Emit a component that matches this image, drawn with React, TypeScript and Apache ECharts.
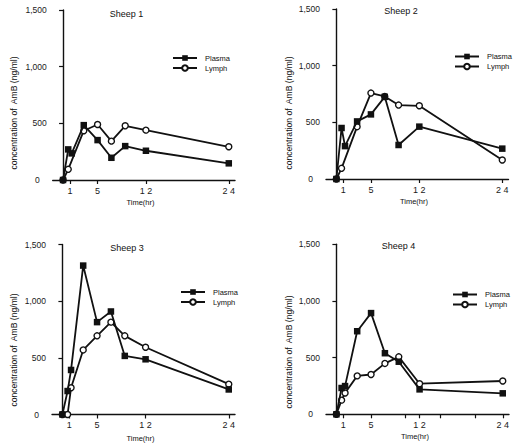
import React, { useEffect, useRef } from "react";
import * as echarts from "echarts";

// Sampling times (hr)
const times = [0, 0.75, 1.25, 3, 5, 7, 9, 12, 24];

// AmB concentration (ng/ml)
const sheep1Plasma = [0, 270, 235, 484, 352, 196, 299, 258, 147];
const sheep1Lymph = [0, 94, null, 435, 490, 343, 478, 440, 293];
const sheep2Plasma = [0, 450, 290, 508, 570, 725, 300, 462, 268];
const sheep2Lymph = [0, 94, null, 462, 758, 728, 652, 646, 168];
const sheep3Plasma = [0, 207, 393, 1314, 815, 909, 517, 487, 221];
const sheep3Lymph = [0, 0, 236, 570, 694, 815, 694, 593, 268];
const sheep4Plasma = [0, 232, 249, 733, 893, 539, 464, 220, 185];
const sheep4Lymph = [0, 125, 188, 339, 351, 449, 507, 270, 294];

const panelTitles = ["Sheep 1", "Sheep 2", "Sheep 3", "Sheep 4"];
const seriesNames = ["Plasma", "Lymph"];
const yTicks = [0, 500, 1000, 1500];
const yTickLabels = ["0", "500", "1,000", "1,500"];
const xLabelValues = [1, 5, 12, 24];
const xLabelTexts = ["1", "5", "1 2", "2 4"];
const xTicksPanel4 = [1, 5, 10, 12, 15, 20, 24];
const xAxisTitle = "Time(hr)";
const yAxisTitle = "concentration of  AmB (ng/ml)";

const panels = [
  { plasma: sheep1Plasma, lymph: sheep1Lymph },
  { plasma: sheep2Plasma, lymph: sheep2Lymph },
  { plasma: sheep3Plasma, lymph: sheep3Lymph },
  { plasma: sheep4Plasma, lymph: sheep4Lymph },
];

const FONT = "'Liberation Sans', Arial, sans-serif";
const INK = "#111";

export default function App() {
  const ref = useRef<HTMLDivElement>(null);
  useEffect(() => {
    if (!ref.current) return;
    const chart = echarts.init(ref.current, null, { renderer: "svg" });

    const grids = [
      { left: 52.7, top: 10, width: 182.3, height: 170 },
      { left: 326, top: 9, width: 182.5, height: 170 },
      { left: 52, top: 244.5, width: 183, height: 170 },
      { left: 326, top: 244.3, width: 183, height: 170 },
    ];
    const legendPos = [
      { left: 172, top: 54 },
      { left: 454, top: 52.5 },
      { left: 180, top: 288 },
      { left: 452, top: 290.5 },
    ];
    const titlePos = [
      [126.5, 14],
      [401, 11],
      [127, 248],
      [398.5, 246],
    ];
    const xTitlePos = [
      [140.5, 202],
      [414, 201.7],
      [140.5, 438],
      [415, 436.7],
    ];
    const yTitlePos = [
      [13.5, 113],
      [288.5, 113],
      [13.5, 350],
      [288.5, 352],
    ];

    const xAxis = grids.map((_, i) => ({
      type: "value",
      gridIndex: i,
      min: -1.5,
      max: 24.9,
      splitLine: { show: false },
      axisLine: { show: true, onZero: false, lineStyle: { color: INK, width: 1.4 } },
      axisTick: {
        show: true,
        length: 4,
        customValues: i === 3 ? xTicksPanel4 : xLabelValues,
        lineStyle: { color: INK, width: 1.2 },
      },
      axisLabel: {
        customValues: xLabelValues,
        formatter: (v: number) => xLabelTexts[xLabelValues.indexOf(v)] ?? "",
        fontSize: 9,
        fontFamily: FONT,
        color: "#1a1a1a",
        margin: 6,
      },
    }));

    const yAxis = grids.map((_, i) => ({
      type: "value",
      gridIndex: i,
      min: 0,
      max: 1500,
      interval: 500,
      splitLine: { show: false },
      axisLine: { show: true, lineStyle: { color: INK, width: 1.4 } },
      axisTick: { show: true, length: 4, lineStyle: { color: INK, width: 1.2 } },
      axisLabel: {
        fontSize: 8.5,
        fontFamily: FONT,
        color: "#1a1a1a",
        margin: 6,
        formatter: (v: number) => {
          const t = yTickLabels[yTicks.indexOf(v)] ?? "";
          return v === 0 ? "{z|" + t + "}" : t;
        },
        rich: { z: { padding: [0, 7, 0, 0], fontSize: 8.5, fontFamily: FONT, color: "#1a1a1a" } },
      },
    }));

    const series: any[] = [];
    panels.forEach((p, i) => {
      series.push({
        name: seriesNames[1],
        type: "line",
        xAxisIndex: i,
        yAxisIndex: i,
        data: times.map((t, k) => [t, p.lymph[k]]),
        connectNulls: true,
        symbol: "circle",
        symbolSize: 6,
        showAllSymbol: true,
        lineStyle: { color: INK, width: 1.8 },
        itemStyle: { color: "#fff", borderColor: INK, borderWidth: 1.4 },
        z: 2,
      });
      series.push({
        name: seriesNames[0],
        type: "line",
        xAxisIndex: i,
        yAxisIndex: i,
        data: times.map((t, k) => [t, p.plasma[k]]),
        connectNulls: true,
        symbol: "rect",
        symbolSize: 6.5,
        showAllSymbol: true,
        lineStyle: { color: INK, width: 1.8 },
        itemStyle: { color: INK, borderColor: INK, borderWidth: 0 },
        z: 3,
      });
    });

    const legend = legendPos.map((pos) => ({
      show: true,
      orient: "vertical",
      left: pos.left,
      top: pos.top,
      data: seriesNames,
      itemWidth: 24,
      itemHeight: 7,
      itemGap: 2,
      selectedMode: false,
      padding: 0,
      textStyle: { fontSize: 7.5, fontFamily: FONT, color: "#111", padding: [0, 0, 0, 3] },
    }));

    const graphic: any[] = [];
    panelTitles.forEach((t, i) => {
      graphic.push({
        type: "text",
        x: titlePos[i][0],
        y: titlePos[i][1],
        style: { text: t, fontSize: 9, fontFamily: FONT, fill: "#111", align: "center", verticalAlign: "middle" },
      });
      graphic.push({
        type: "text",
        x: xTitlePos[i][0],
        y: xTitlePos[i][1],
        style: { text: xAxisTitle, fontSize: 7.5, fontFamily: FONT, fill: "#111", align: "center", verticalAlign: "middle" },
      });
      graphic.push({
        type: "text",
        x: yTitlePos[i][0],
        y: yTitlePos[i][1],
        rotation: Math.PI / 2,
        style: { text: yAxisTitle, fontSize: 8.6, fontFamily: FONT, fill: "#111", align: "center", verticalAlign: "middle" },
      });
    });

    chart.setOption({
      animation: false,
      backgroundColor: "#fff",
      grid: grids.map((g) => ({ ...g, containLabel: false })),
      xAxis,
      yAxis,
      legend,
      series,
      graphic,
    });
    return () => chart.dispose();
  }, []);
  return (
    <div
      ref={ref}
      style={{ position: "absolute", left: 0, top: 0, width: 515, height: 446, background: "#fff" }}
    />
  );
}
